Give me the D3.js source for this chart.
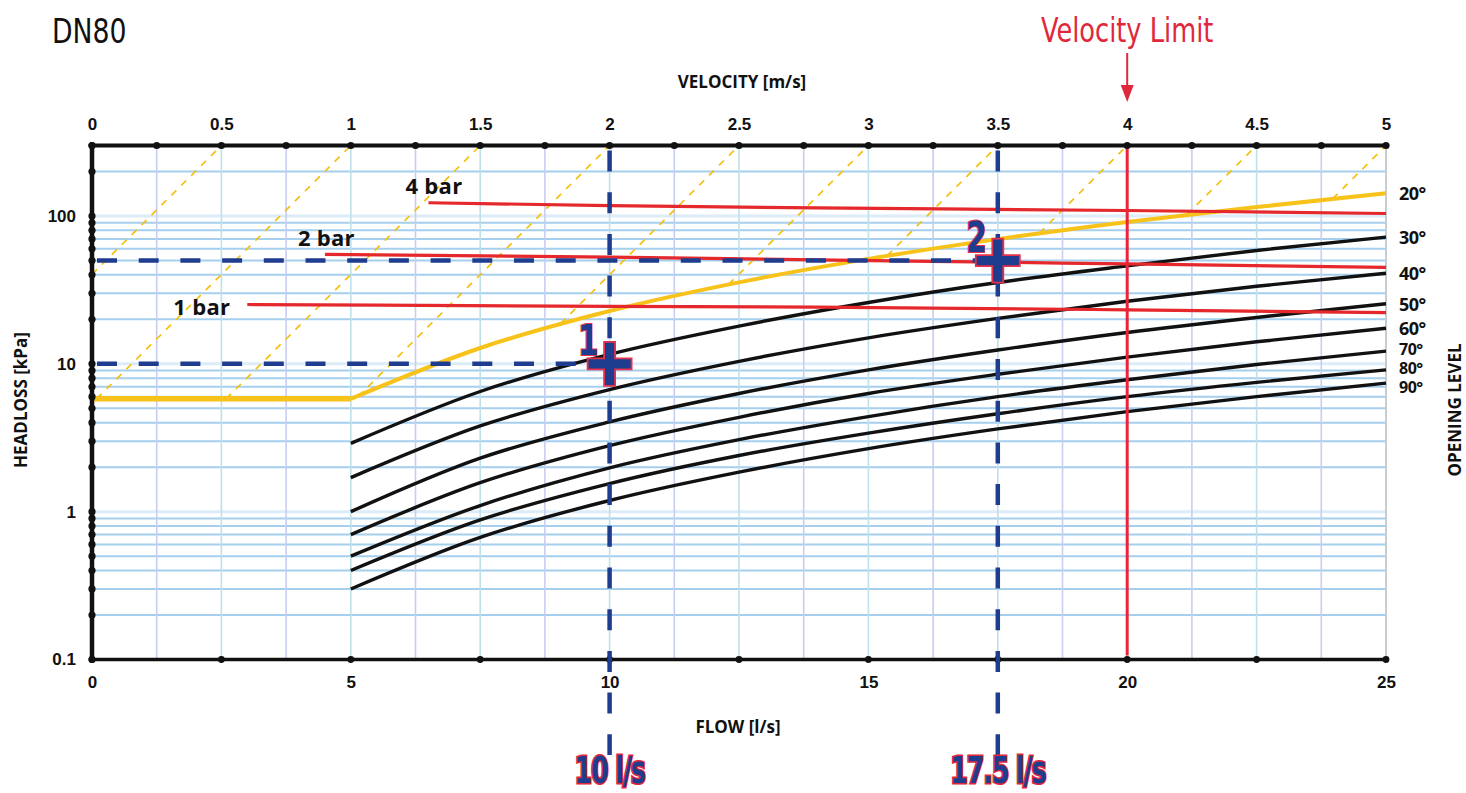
<!DOCTYPE html>
<html>
<head>
<meta charset="utf-8">
<script src="https://cdn.jsdelivr.net/npm/d3@7"></script>
<style>
  html, body { margin: 0; padding: 0; background: #fff; }
  svg { display: block; }
</style>
</head>
<body>
<svg id="chart" width="1466" height="793"></svg>
<script>
// ---------------- DATA ----------------
const flowTicks = [0, 5, 10, 15, 20, 25];
const velocityTicks = [0, 0.5, 1, 1.5, 2, 2.5, 3, 3.5, 4, 4.5, 5];
const headTicks = [0.1, 1, 10, 100];
const velocityTickLabels = ["0", "0.5", "1", "1.5", "2", "2.5", "3", "3.5", "4", "4.5", "5"];

// Opening-level curves (headloss kPa vs flow l/s)
const curveFlows = [5, 7.5, 10, 12.5, 15, 17.5, 20, 22.5, 25];
const opening30 = [2.9, 6.5, 11.6, 18.0, 26.0, 35.5, 46.0, 58.5, 72.0];
const opening40 = [1.7, 3.8, 6.7, 10.4, 15.0, 20.3, 26.5, 33.5, 41.0];
const opening50 = [1.0, 2.3, 4.05, 6.3, 9.1, 12.4, 16.3, 20.6, 25.5];
const opening60 = [0.7, 1.57, 2.8, 4.35, 6.3, 8.5, 11.1, 14.1, 17.4];
const opening70 = [0.5, 1.1, 1.98, 3.07, 4.4, 6.0, 7.8, 9.9, 12.2];
const opening80 = [0.4, 0.88, 1.55, 2.4, 3.4, 4.6, 6.0, 7.5, 9.1];
const opening90 = [0.3, 0.67, 1.19, 1.85, 2.67, 3.63, 4.75, 6.0, 7.4];
const openingLabels = ["30°", "40°", "50°", "60°", "70°", "80°", "90°"];

// 20° (yellow) curve
const open20Flows = [0, 5, 7.5, 10, 12.5, 15, 17.5, 20, 22.5, 25];
const open20Head  = [5.8, 5.8, 12.8, 22.8, 35.6, 51.3, 69.8, 91.2, 115, 142.5];
const open20Label = "20°";

// Pressure lines
const bar4Flows = [6.5, 10, 14, 20, 25];
const bar4Head  = [123, 117.6, 113.5, 109, 104];
const bar2Flows = [4.5, 10, 14, 17.5, 20, 25];
const bar2Head  = [55, 52.8, 50.5, 48.7, 47.4, 45];
const bar1Flows = [3, 10, 14, 20, 25];
const bar1Head  = [25.2, 24.5, 24.2, 23.2, 22.2];
const barLabels = ["4 bar", "2 bar", "1 bar"];

// Dashed diagonal guide lines: top end (flow at 300 kPa) and lower start point
const diagTopFlow   = [2.5, 5, 7.5, 10, 12.5, 15, 17.5, 20, 22.5, 25];
const diagStartFlow = [0, 0.09, 2.59, 5.14, 9.05, 12.3, 15.36, 18.3, 21.15, 23.97];
const diagStartHead = [40.3, 5.8, 5.8, 6.0, 18.7, 34.5, 53.8, 76.4, 102, 131];

// Worked examples
const exampleFlow = [10, 17.5];
const exampleHead = [10, 50];
const exampleNames = ["1", "2"];
const exampleFlowLabels = ["10 l/s", "17.5 l/s"];

const velocityLimit = 4; // m/s
const maxHead = 300, minHead = 0.1;

// ---------------- SCALES ----------------
const svg = d3.select("#chart");
const x = d3.scaleLinear().domain([0, 25]).range([92, 1386]);
const xv = d3.scaleLinear().domain([0, 5]).range([92, 1386]);
const y = d3.scaleLog().domain([minHead, maxHead]).range([659.5, 145.5]);

const navy = "#1f3d8f", red = "#e5282b", yellow = "#f7c21a";
const boldSans = "'Open Sans', 'Liberation Sans', sans-serif";
const narrow = "'Liberation Sans Narrow', 'DejaVu Sans Condensed', 'Roboto', sans-serif";

// helper: horizontally condensed text
function condensed(parent, tx, ty, sx, txt) {
  return parent.append("g").attr("transform", `translate(${tx},${ty}) scale(${sx},1)`)
    .append("text").attr("x", 0).attr("y", 0).text(txt);
}

// ---------------- GRID ----------------
const grid = svg.append("g");
const hTicks = y.ticks();
grid.selectAll("line.h").data(hTicks).join("line")
  .attr("x1", x(0)).attr("x2", x(25))
  .attr("y1", d => y(d)).attr("y2", d => y(d))
  .attr("stroke", d => headTicks.includes(d) ? "#dcecf8" : "#a6cfee")
  .attr("stroke-width", d => headTicks.includes(d) ? 3 : 2);

const vTicks = d3.range(0, 5.001, 0.25);
grid.selectAll("line.v").data(vTicks).join("line")
  .attr("x1", d => xv(d)).attr("x2", d => xv(d))
  .attr("y1", y(maxHead)).attr("y2", y(minHead))
  .attr("stroke", (d, i) => i % 2 === 0 ? "#bfe0e9" : "#c9cdf1")
  .attr("stroke-width", 1.6);

// right border
svg.append("line").attr("x1", x(25)).attr("x2", x(25))
  .attr("y1", y(maxHead)).attr("y2", y(minHead))
  .attr("stroke", "#c4c4c4").attr("stroke-width", 1.5);

// ---------------- DIAGONALS ----------------
svg.append("g").selectAll("line").data(diagTopFlow).join("line")
  .attr("x1", (d, i) => x(diagStartFlow[i])).attr("y1", (d, i) => y(diagStartHead[i]))
  .attr("x2", d => x(d)).attr("y2", y(maxHead))
  .attr("stroke", "#f5bf10").attr("stroke-width", 1.7)
  .attr("stroke-dasharray", "7,7");

// ---------------- CURVES ----------------
const line = d3.line().x(d => x(d[0])).y(d => y(d[1])).curve(d3.curveMonotoneX);
const openings = [opening30, opening40, opening50, opening60, opening70, opening80, opening90];
svg.append("g").selectAll("path").data(openings).join("path")
  .attr("d", s => line(curveFlows.map((f, i) => [f, s[i]])))
  .attr("fill", "none").attr("stroke", "#111").attr("stroke-width", 3.4);

// yellow 20° : flat part then rising curve
const y20 = open20Flows.map((f, i) => [f, open20Head[i]]);
const kneeIdx = open20Flows.indexOf(5);
svg.append("path")
  .attr("d", d3.line().x(d => x(d[0])).y(d => y(d[1]))(y20.slice(0, kneeIdx + 1)))
  .attr("fill", "none").attr("stroke", yellow).attr("stroke-width", 5.5);
svg.append("path")
  .attr("d", line(y20.slice(kneeIdx)))
  .attr("fill", "none").attr("stroke", yellow).attr("stroke-width", 4);

// red pressure lines
const bars = [
  bar4Flows.map((f, i) => [f, bar4Head[i]]),
  bar2Flows.map((f, i) => [f, bar2Head[i]]),
  bar1Flows.map((f, i) => [f, bar1Head[i]])
];
svg.append("g").selectAll("path").data(bars).join("path")
  .attr("d", d => line(d))
  .attr("fill", "none").attr("stroke", red).attr("stroke-width", 3.2);

// bar labels (offset from line starts)
const barLabelOffsets = [[-23, -9, "start"], [-27, -8, "start"], [-17, 10, "end"]];
svg.append("g").selectAll("text").data(bars).join("text")
  .attr("x", (d, i) => x(d[0][0]) + barLabelOffsets[i][0])
  .attr("y", (d, i) => y(d[0][1]) + barLabelOffsets[i][1])
  .attr("text-anchor", (d, i) => barLabelOffsets[i][2])
  .attr("font-family", boldSans).attr("font-weight", 700).attr("font-size", 22)
  .attr("letter-spacing", 0.3)
  .attr("fill", "#111")
  .text((d, i) => barLabels[i]);

// velocity limit
svg.append("line").attr("x1", xv(velocityLimit)).attr("x2", xv(velocityLimit))
  .attr("y1", y(maxHead)).attr("y2", y(minHead) - 4)
  .attr("stroke", "#e8253a").attr("stroke-width", 3);

// ---------------- AXES ----------------
const tickFont = "'Liberation Sans', Arial, sans-serif";
const topAxis = svg.append("g").attr("transform", `translate(0,${y(maxHead)})`)
  .call(d3.axisTop(xv).tickValues(velocityTicks).tickSize(0).tickPadding(16)
    .tickFormat((d, i) => velocityTickLabels[i]));
topAxis.select(".domain").remove();
topAxis.selectAll("text").attr("font-family", tickFont)
  .attr("font-weight", 700).attr("font-size", 17).attr("fill", "#111");

const botAxis = svg.append("g").attr("transform", `translate(0,${y(minHead)})`)
  .call(d3.axisBottom(x).tickValues(flowTicks).tickSize(0).tickPadding(16));
botAxis.select(".domain").remove();
botAxis.selectAll("text").attr("font-family", tickFont)
  .attr("font-weight", 700).attr("font-size", 17).attr("fill", "#111");

const leftAxis = svg.append("g").attr("transform", `translate(${x(0)},0)`)
  .call(d3.axisLeft(y).tickValues(headTicks).tickSize(0).tickPadding(16)
    .tickFormat(d => String(d)));
leftAxis.select(".domain").remove();
leftAxis.selectAll("text").attr("font-family", tickFont)
  .attr("font-weight", 700).attr("font-size", 17).attr("fill", "#111");

// axis lines
svg.append("line").attr("x1", x(0) - 2).attr("x2", x(25)).attr("y1", y(maxHead)).attr("y2", y(maxHead))
  .attr("stroke", "#111").attr("stroke-width", 4);
svg.append("line").attr("x1", x(0) - 2).attr("x2", x(25)).attr("y1", y(minHead)).attr("y2", y(minHead))
  .attr("stroke", "#111").attr("stroke-width", 3.5);
svg.append("line").attr("x1", x(0)).attr("x2", x(0)).attr("y1", y(maxHead) - 2).attr("y2", y(minHead) + 2)
  .attr("stroke", "#111").attr("stroke-width", 4.5);

// tick dots
const dots = svg.append("g").attr("fill", "#111");
dots.selectAll("circle.t").data(vTicks).join("circle")
  .attr("cx", d => xv(d)).attr("cy", y(maxHead)).attr("r", 3.6);
dots.selectAll("circle.b").data(d3.range(0, 25.001, 2.5)).join("circle")
  .attr("class", "b").attr("cx", d => x(d)).attr("cy", y(minHead)).attr("r", 3.4);
dots.selectAll("circle.l").data(hTicks).join("circle")
  .attr("class", "l").attr("cx", x(0)).attr("cy", d => y(d)).attr("r", 3.6);

// axis titles
svg.append("text").attr("x", 742).attr("y", 88).attr("text-anchor", "middle")
  .attr("font-family", boldSans).attr("font-weight", 700).attr("font-size", 17).attr("fill", "#111")
  .text("VELOCITY [m/s]");
svg.append("text").attr("x", 738).attr("y", 733).attr("text-anchor", "middle")
  .attr("font-family", boldSans).attr("font-weight", 700).attr("font-size", 17).attr("fill", "#111")
  .text("FLOW [l/s]");
svg.append("text").attr("transform", "translate(27,400) rotate(-90)").attr("text-anchor", "middle")
  .attr("font-family", boldSans).attr("font-weight", 700).attr("font-size", 17).attr("fill", "#111")
  .text("HEADLOSS [kPa]");
svg.append("text").attr("transform", "translate(1461,410) rotate(-90)").attr("text-anchor", "middle")
  .attr("font-family", boldSans).attr("font-weight", 700).attr("font-size", 17).attr("fill", "#111")
  .text("OPENING LEVEL");

// opening level labels (small nudge on the crowded last three)
const endVals = [open20Head[open20Head.length - 1], ...openings.map(s => s[s.length - 1])];
const endLabels = [open20Label, ...openingLabels];
const endNudge = [0, 0, 0, 0, 0, -2, -2, 4];
svg.append("g").selectAll("text").data(endVals).join("text")
  .attr("x", x(25) + 13).attr("y", (d, i) => y(d) + endNudge[i])
  .attr("dominant-baseline", "central")
  .attr("font-family", boldSans).attr("font-weight", 700)
  .attr("font-size", (d, i) => i >= 5 ? 16 : 18)
  .attr("letter-spacing", -0.5).attr("fill", "#111")
  .text((d, i) => endLabels[i]);

// ---------------- EXAMPLES ----------------
const ex = svg.append("g");
exampleFlow.forEach((f, i) => {
  ex.append("line").attr("x1", x(0) + 5).attr("x2", x(f))
    .attr("y1", y(exampleHead[i])).attr("y2", y(exampleHead[i]))
    .attr("stroke", navy).attr("stroke-width", 4.5).attr("stroke-dasharray", "20,21.7");
  ex.append("line").attr("x1", x(f)).attr("x2", x(f))
    .attr("y1", y(maxHead) + 5).attr("y2", 755)
    .attr("stroke", navy).attr("stroke-width", 4.5).attr("stroke-dasharray", "21,20.7");
});
exampleFlow.forEach((f, i) => {
  const cx = x(f), cy = y(exampleHead[i]);
  const a = 22, t = 5.5;
  const p = d3.path();
  p.moveTo(cx - t, cy - a); p.lineTo(cx + t, cy - a); p.lineTo(cx + t, cy - t);
  p.lineTo(cx + a, cy - t); p.lineTo(cx + a, cy + t); p.lineTo(cx + t, cy + t);
  p.lineTo(cx + t, cy + a); p.lineTo(cx - t, cy + a); p.lineTo(cx - t, cy + t);
  p.lineTo(cx - a, cy + t); p.lineTo(cx - a, cy - t); p.lineTo(cx - t, cy - t); p.closePath();
  ex.append("path").attr("d", p.toString()).attr("fill", navy)
    .attr("stroke", "#e8304a").attr("stroke-width", 1.8);
  condensed(ex, cx - 11, cy - 9, 0.78, exampleNames[i])
    .attr("text-anchor", "end")
    .attr("font-family", narrow).attr("font-weight", 700).attr("font-size", 42)
    .attr("fill", navy).attr("stroke", "#e8304a").attr("stroke-width", 2)
    .attr("paint-order", "stroke");
  condensed(ex, cx, 783, 0.76, exampleFlowLabels[i])
    .attr("text-anchor", "middle")
    .attr("font-family", narrow).attr("font-weight", 700).attr("font-size", 37)
    .attr("letter-spacing", -1.5)
    .attr("fill", navy).attr("stroke", "#e3263b").attr("stroke-width", 3)
    .attr("paint-order", "stroke");
});

// ---------------- TITLES ----------------
condensed(svg, 52, 43, 0.9, "DN80")
  .attr("font-family", narrow).attr("font-size", 33).attr("fill", "#111");
condensed(svg, xv(velocityLimit), 42, 0.84, "Velocity Limit")
  .attr("text-anchor", "middle")
  .attr("font-family", narrow).attr("font-size", 34).attr("fill", "#e0283c");
svg.append("line").attr("x1", xv(velocityLimit)).attr("x2", xv(velocityLimit))
  .attr("y1", 53).attr("y2", 88).attr("stroke", "#e0283c").attr("stroke-width", 2);
svg.append("path")
  .attr("d", `M${xv(velocityLimit) - 6.5},85 L${xv(velocityLimit) + 6.5},85 L${xv(velocityLimit)},102 Z`)
  .attr("fill", "#e0283c");
</script>
</body>
</html>
